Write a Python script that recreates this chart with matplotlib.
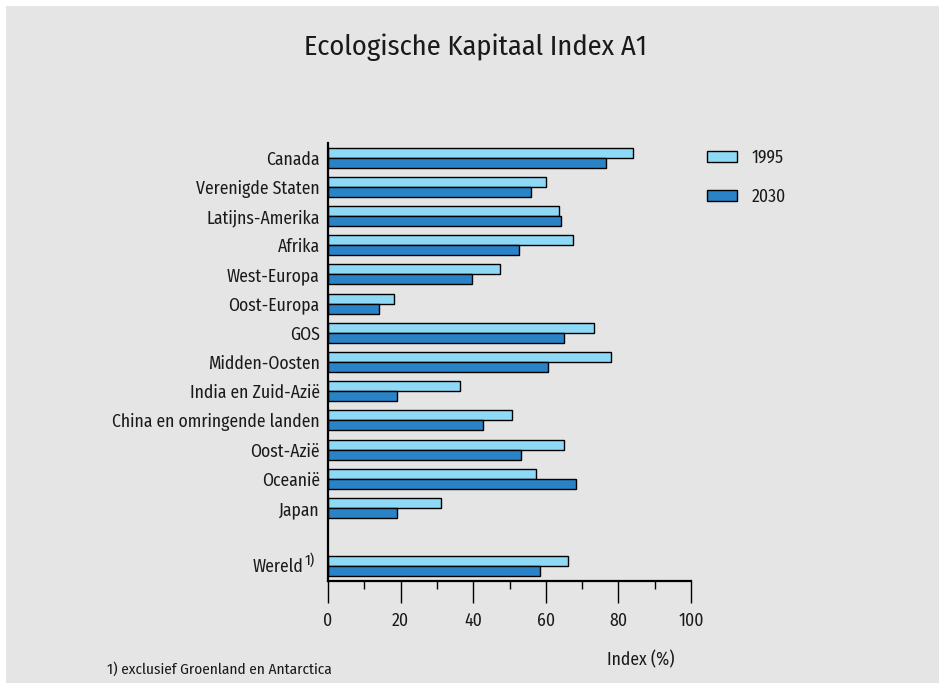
import matplotlib
matplotlib.use("Agg")
import matplotlib.pyplot as plt
from matplotlib.patches import Patch, Rectangle
import numpy as np

plt.rcParams['font.family'] = ['Fira Sans Condensed', 'Archivo Narrow', 'DejaVu Sans']

title = "Ecologische Kapitaal Index A1"
categories = ["Canada", "Verenigde Staten", "Latijns-Amerika", "Afrika", "West-Europa",
              "Oost-Europa", "GOS", "Midden-Oosten", "India en Zuid-Azië",
              "China en omringende landen", "Oost-Azië", "Oceanië", "Japan", "Wereld"]
positions = [0, 1, 2, 3, 4, 5, 6, 7, 8, 9, 10, 11, 12, 14]
v1995 = [83.9, 60.0, 63.6, 67.6, 47.5, 18.2, 73.3, 78.0, 36.4, 50.7, 64.9, 57.4, 31.2, 66.1]
v2030 = [76.5, 55.8, 64.2, 52.5, 39.8, 14.0, 65.0, 60.7, 19.1, 42.7, 53.2, 68.2, 18.9, 58.4]
series_names = ["1995", "2030"]
xticks = [0, 20, 40, 60, 80, 100]
xlabel = "Index (%)"
footnote = "1) exclusief Groenland en Antarctica"

c1 = "#8ed9f6"
c2 = "#2a82c7"
bg = "#e5e5e5"
tc = "#1a1a1a"
FS = 12.7

W, H = 939, 683
fig = plt.figure(figsize=(W / 100, H / 100), dpi=100)
fig.patch.set_facecolor("white")
fig.add_artist(Rectangle((6 / W, 0), 1 - 6 / W, 1 - 6 / H, transform=fig.transFigure,
                         facecolor=bg, edgecolor="none", zorder=-10))

ax = fig.add_axes([328 / W, 1 - 581 / H, 363 / W, (581 - 143) / H])
ax.set_facecolor("none")
pos = np.array(positions, dtype=float)
h = 0.34
ax.barh(pos - h / 2, v1995, height=h, color=c1, edgecolor="black", linewidth=1.0)
ax.barh(pos + h / 2, v2030, height=h, color=c2, edgecolor="black", linewidth=1.0)
ax.set_xlim(0, 100)
ax.set_ylim(14.5, -0.5)
for s in ["top", "right"]:
    ax.spines[s].set_visible(False)
for s in ["left", "bottom"]:
    ax.spines[s].set_linewidth(1.6)
ax.set_xticks(xticks)
ax.set_xticks([10, 30, 50, 70, 90], minor=True)
ax.tick_params(axis="x", which="major", length=16, width=1.0, pad=6, labelsize=FS, labelcolor=tc)
ax.tick_params(axis="x", which="minor", length=5.5, width=1.0)
ax.set_yticks(pos)
ax.set_yticklabels(categories[:-1] + [""])
ax.tick_params(axis="y", length=0, pad=6, labelsize=FS, labelcolor=tc)

# Wereld label with superscript footnote marker
ax.annotate(categories[-1], xy=(0, pos[-1]), xycoords=("axes fraction", "data"),
            xytext=(-18, 0), textcoords="offset points", ha="right", va="center",
            fontsize=FS, color=tc)
ax.annotate("1)", xy=(0, pos[-1]), xycoords=("axes fraction", "data"),
            xytext=(-16.5, 4.5), textcoords="offset points", ha="left", va="center",
            fontsize=10.5, color=tc)

fig.text(476 / W, 1 - 47 / H, title, ha="center", va="center", fontsize=20.5, color=tc)
fig.text(641 / W, 1 - 660 / H, xlabel, ha="center", va="center", fontsize=FS, color=tc)
fig.text(107 / W, 1 - 669 / H, footnote, ha="left", va="center", fontsize=11, color=tc)

handles = [Patch(facecolor=c1, edgecolor="black", linewidth=1.0),
           Patch(facecolor=c2, edgecolor="black", linewidth=1.0)]
fig.legend(handles, series_names, loc="upper left", bbox_to_anchor=(707 / W, 1 - 149 / H),
           frameon=False, borderpad=0, borderaxespad=0, handlelength=1.7, handleheight=0.6,
           handletextpad=0.85, labelspacing=1.2, fontsize=FS, labelcolor=tc)

fig.savefig("out.png", dpi=100)
